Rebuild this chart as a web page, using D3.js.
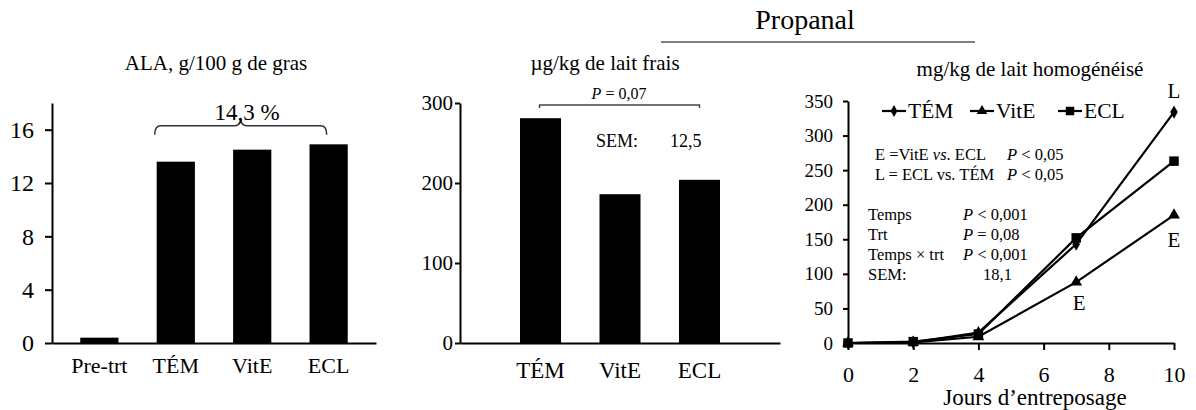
<!DOCTYPE html>
<html>
<head>
<meta charset="utf-8">
<script src="https://cdn.jsdelivr.net/npm/d3@7"></script>
<style>
  body { margin: 0; background: #fff; }
  svg text { font-family: "Liberation Serif", "Times New Roman", serif; fill: #000; }
  .axis path, .axis line { stroke: #000; stroke-width: 2; }
</style>
</head>
<body>
<div class="chart"></div>
<script>
// ALA panel
var alaCats = ["Pre-trt", "TÉM", "VitE", "ECL"];
var alaValues = [0.4, 13.6, 14.5, 14.9];
var alaTicks = [0, 4, 8, 12, 16];

// fresh milk propanal
var freshCats = ["TÉM", "VitE", "ECL"];
var freshValues = [281, 186, 204];
var freshTicks = [0, 100, 200, 300];

// homogenised milk over storage days
var days = [0, 2, 4, 7, 10];
var temValues = [0, 1, 15, 143, 334];
var viteValues = [0, 1, 9, 88, 185];
var eclValues = [0, 2, 13, 152, 263];
var dayTicks = [0, 2, 4, 6, 8, 10];
var homTicks = [0, 50, 100, 150, 200, 250, 300, 350];

var W = 1196, H = 410;

var svg = d3.select(".chart").append("svg")
    .attr("width", W)
    .attr("height", H);

// ---------- heading ----------
svg.append("text")
    .attr("x", 805).attr("y", 29)
    .attr("text-anchor", "middle")
    .style("font-size", "28px")
    .text("Propanal");

svg.append("line")
    .attr("x1", 661).attr("x2", 975)
    .attr("y1", 42).attr("y2", 42)
    .attr("stroke", "#555").attr("stroke-width", 1.5);

// ---------- panel 1 : ALA ----------
var x1 = d3.scaleBand().domain(alaCats).range([52, 376]).paddingInner(0.5).paddingOuter(0.37);
var y1 = d3.scaleLinear().domain([0, 18]).range([343, 103]);

svg.append("text")
    .attr("x", 216).attr("y", 70)
    .attr("text-anchor", "middle")
    .style("font-size", "21px")
    .text("ALA, g/100 g de gras");

svg.selectAll(".barA")
    .data(alaValues)
    .enter().append("rect")
    .attr("class", "barA")
    .attr("x", function(d, i){ return x1(alaCats[i]); })
    .attr("width", x1.bandwidth())
    .attr("y", function(d){ return y1(d); })
    .attr("height", function(d){ return y1(0) - y1(d); })
    .attr("fill", "#000");

svg.append("g")
    .attr("class", "axis")
    .attr("transform", "translate(52,0)")
    .call(d3.axisLeft(y1).tickValues(alaTicks).tickSize(7).tickSizeOuter(0).tickPadding(11))
    .selectAll("text").style("font-size", "24px");

svg.append("g")
    .attr("class", "axis")
    .attr("transform", "translate(0,343)")
    .call(d3.axisBottom(x1).tickSize(0).tickSizeOuter(0).tickPadding(14))
    .selectAll("text").style("font-size", "22px");

// curly bracket over the three treatments
var bx0 = x1("TÉM") - 2, bx1 = x1("ECL") + x1.bandwidth() * 0.45, bm = (bx0 + bx1) / 2;
var by = y1(16.3);
svg.append("path")
    .attr("d", "M" + bx0 + "," + (by + 9) + " Q" + bx0 + "," + by + " " + (bx0 + 6) + "," + by +
               " L" + (bm - 6) + "," + by + " Q" + bm + "," + by + " " + bm + "," + (by - 8) +
               " Q" + bm + "," + by + " " + (bm + 6) + "," + by +
               " L" + (bx1 - 6) + "," + by + " Q" + bx1 + "," + by + " " + bx1 + "," + (by + 9))
    .attr("fill", "none").attr("stroke", "#333").attr("stroke-width", 1.5);

svg.append("text")
    .attr("x", 247).attr("y", 120)
    .attr("text-anchor", "middle")
    .style("font-size", "23px")
    .text("14,3 %");

// ---------- panel 2 : fresh milk ----------
var x2 = d3.scaleBand().domain(freshCats).range([460, 780]).paddingInner(0.484).paddingOuter(0.755);
var y2 = d3.scaleLinear().domain([0, 300]).range([343, 103]);

svg.append("text")
    .attr("x", 605).attr("y", 70)
    .attr("text-anchor", "middle")
    .style("font-size", "21px")
    .text("µg/kg de lait frais");

svg.selectAll(".barB")
    .data(freshValues)
    .enter().append("rect")
    .attr("class", "barB")
    .attr("x", function(d, i){ return x2(freshCats[i]); })
    .attr("width", x2.bandwidth())
    .attr("y", function(d){ return y2(d); })
    .attr("height", function(d){ return y2(0) - y2(d); })
    .attr("fill", "#000");

svg.append("g")
    .attr("class", "axis")
    .attr("transform", "translate(460,0)")
    .call(d3.axisLeft(y2).tickValues(freshTicks).tickSize(5).tickSizeOuter(0).tickPadding(2))
    .selectAll("text").style("font-size", "21px");

svg.append("g")
    .attr("class", "axis")
    .attr("transform", "translate(0,343)")
    .call(d3.axisBottom(x2).tickSize(0).tickSizeOuter(0).tickPadding(19))
    .selectAll("text").style("font-size", "23px");

var px0 = x2("TÉM") + x2.bandwidth() / 2 - 1, px1 = x2("ECL") + x2.bandwidth() / 2;
svg.append("path")
    .attr("d", "M" + px0 + ",108 L" + px0 + ",105 L" + px1 + ",105 L" + px1 + ",108")
    .attr("fill", "none").attr("stroke", "#444").attr("stroke-width", 1.5);

var pt = svg.append("text")
    .attr("x", 619).attr("y", 99)
    .attr("text-anchor", "middle")
    .style("font-size", "16px");
pt.append("tspan").style("font-style", "italic").text("P");
pt.append("tspan").text(" = 0,07");

svg.append("text").attr("x", 596).attr("y", 147).style("font-size", "18px").text("SEM:");
svg.append("text").attr("x", 670).attr("y", 147).style("font-size", "18px").text("12,5");

// ---------- panel 3 : homogenised milk ----------
var x3 = d3.scaleLinear().domain([0, 10]).range([848, 1174]);
var y3 = d3.scaleLinear().domain([0, 350]).range([343, 101]);

svg.append("text")
    .attr("x", 1030).attr("y", 76)
    .attr("text-anchor", "middle")
    .style("font-size", "21px")
    .text("mg/kg de lait homogénéisé");

svg.append("g")
    .attr("class", "axis")
    .attr("transform", "translate(848,0)")
    .call(d3.axisLeft(y3).tickValues(homTicks).tickSize(5).tickSizeOuter(0).tickPadding(10))
    .selectAll("text").style("font-size", "19px");

svg.append("g")
    .attr("class", "axis")
    .attr("transform", "translate(0,343)")
    .call(d3.axisBottom(x3).tickValues(dayTicks).tickSize(7).tickSizeOuter(0).tickPadding(16))
    .selectAll("text").style("font-size", "22px");

svg.append("text")
    .attr("x", 1035).attr("y", 405)
    .attr("text-anchor", "middle")
    .style("font-size", "23px")
    .text("Jours d’entreposage");

var series = [
  {name: "TÉM", values: temValues, symbol: d3.symbolDiamond, size: 50},
  {name: "VitE", values: viteValues, symbol: d3.symbolTriangle, size: 60},
  {name: "ECL", values: eclValues, symbol: d3.symbolSquare, size: 90}
];

var line = d3.line()
    .x(function(d, i){ return x3(days[i]); })
    .y(function(d){ return y3(d); });

series.forEach(function(s){
  svg.append("path")
      .attr("d", line(s.values))
      .attr("fill", "none")
      .attr("stroke", "#000")
      .attr("stroke-width", 2.2);

  svg.selectAll(null)
      .data(s.values)
      .enter().append("path")
      .attr("transform", function(d, i){ return "translate(" + x3(days[i]) + "," + y3(d) + ")"; })
      .attr("d", d3.symbol().type(s.symbol).size(s.size))
      .attr("fill", "#000");
});

// legend
var legendX = [882, 970, 1058];
series.forEach(function(s, i){
  var lx = legendX[i];
  svg.append("line")
      .attr("x1", lx).attr("x2", lx + 24)
      .attr("y1", 111).attr("y2", 111)
      .attr("stroke", "#000").attr("stroke-width", 2.2);
  svg.append("path")
      .attr("transform", "translate(" + (lx + 12) + ",111)")
      .attr("d", d3.symbol().type(s.symbol).size(s.size * 0.8))
      .attr("fill", "#000");
  svg.append("text")
      .attr("x", lx + 26).attr("y", 118)
      .style("font-size", "21.5px")
      .text(s.name);
});

// contrasts
var c1 = svg.append("text").attr("x", 875).attr("y", 160).style("font-size", "16.5px");
c1.append("tspan").text("E =VitE ");
c1.append("tspan").style("font-style", "italic").text("vs");
c1.append("tspan").text(". ECL");
svg.append("text").attr("x", 875).attr("y", 180).style("font-size", "16.5px").text("L = ECL vs. TÉM");

function pText(x, y, rest) {
  var t = svg.append("text").attr("x", x).attr("y", y).style("font-size", "16.5px");
  t.append("tspan").style("font-style", "italic").text("P");
  t.append("tspan").text(rest);
}
pText(1007, 160, " < 0,05");
pText(1007, 180, " < 0,05");

var statRows = [["Temps", " < 0,001"], ["Trt", " = 0,08"], ["Temps × trt", " < 0,001"]];
statRows.forEach(function(r, i){
  svg.append("text").attr("x", 868).attr("y", 220 + i * 20).style("font-size", "16.5px").text(r[0]);
  pText(963, 220 + i * 20, r[1]);
});
svg.append("text").attr("x", 868).attr("y", 280).style("font-size", "16.5px").text("SEM:");
svg.append("text").attr("x", 983).attr("y", 280).style("font-size", "16.5px").text("18,1");

// significance letters
svg.append("text").attr("x", x3(10)).attr("y", 98).attr("text-anchor", "middle").style("font-size", "21px").text("L");
svg.append("text").attr("x", x3(10)).attr("y", 247).attr("text-anchor", "middle").style("font-size", "21px").text("E");
svg.append("text").attr("x", x3(7) + 3).attr("y", 310).attr("text-anchor", "middle").style("font-size", "21px").text("E");
</script>
</body>
</html>
